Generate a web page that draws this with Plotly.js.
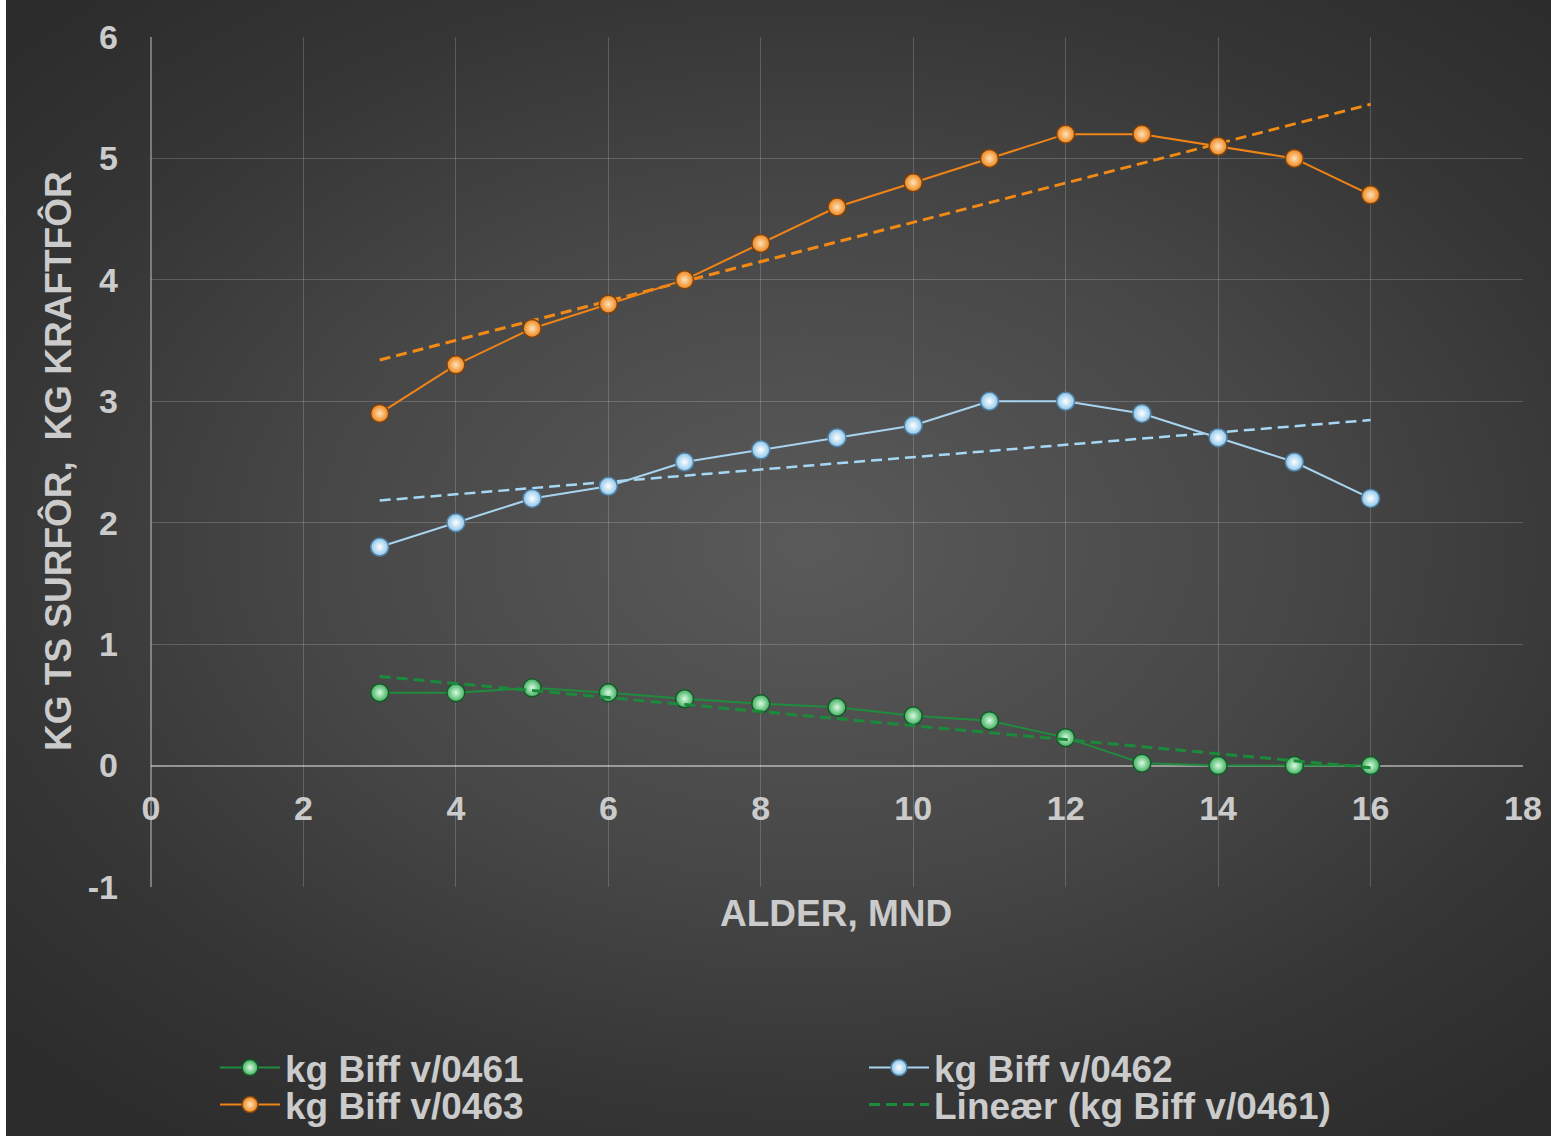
<!DOCTYPE html>
<html>
<head>
<meta charset="utf-8">
<script src="https://cdn.plot.ly/plotly-3.0.1.min.js"></script>
<style>
  html, body { margin: 0; padding: 0; background: #ffffff; }
  #chart {
    position: absolute; left: 0; top: 0; width: 1551px; height: 1136px;
    background: radial-gradient(ellipse 70% 65% at 52% 48%, #5a5a5a 0%, #474747 45%, #363636 75%, #2c2c2c 100%);
  }
  #edge { position: absolute; left: 0; top: 0; width: 6px; height: 1136px; background: #ffffff; z-index: 5; }
</style>
</head>
<body>
<div id="chart"></div>
<div id="edge"></div>
<script>
// Age in months
const ages = [3, 4, 5, 6, 7, 8, 9, 10, 11, 12, 13, 14, 15, 16];

// Daily feed per animal (kg)
const biff0461 = [0.60, 0.60, 0.64, 0.60, 0.55, 0.51, 0.48, 0.41, 0.37, 0.23, 0.02, 0.00, 0.00, 0.00];
const biff0462 = [1.8, 2.0, 2.2, 2.3, 2.5, 2.6, 2.7, 2.8, 3.0, 3.0, 2.9, 2.7, 2.5, 2.2];
const biff0463 = [2.9, 3.3, 3.6, 3.8, 4.0, 4.3, 4.6, 4.8, 5.0, 5.2, 5.2, 5.1, 5.0, 4.7];

const seriesNames = ['kg Biff v/0461', 'kg Biff v/0462', 'kg Biff v/0463'];
const trendName = 'Lineær (kg Biff v/0461)';

const xTicks = [0, 2, 4, 6, 8, 10, 12, 14, 16, 18];
const yTicks = [-1, 0, 1, 2, 3, 4, 5, 6];

// Least-squares straight line through a series, evaluated at the first and last age
function linearTrend(xs, ys) {
  const n = xs.length;
  const mx = xs.reduce((a, b) => a + b, 0) / n;
  const my = ys.reduce((a, b) => a + b, 0) / n;
  let sxy = 0, sxx = 0;
  for (let i = 0; i < n; i++) { sxy += (xs[i] - mx) * (ys[i] - my); sxx += (xs[i] - mx) ** 2; }
  const b = sxy / sxx, a = my - b * mx;
  const ends = [xs[0], xs[n - 1]];
  return { x: ends, y: ends.map(v => a + b * v) };
}

const FONT = 'Liberation Sans, Arial, sans-serif';
const TXT = '#cbcbcb';

function series(y, name, lineColor, fill, center, edge, legend) {
  return {
    x: ages, y: y, name: name, type: 'scatter', mode: 'lines+markers',
    line: { color: lineColor, width: 2 },
    marker: { size: 18, color: fill, gradient: { type: 'radial', color: center },
              line: { color: edge, width: 1.5 } },
    legend: legend
  };
}

function trend(y, name, color, width, showLegend, legend) {
  const t = linearTrend(ages, y);
  return {
    x: t.x, y: t.y, name: name, type: 'scatter', mode: 'lines',
    line: { color: color, width: width, dash: '11px,6px' },
    showlegend: showLegend, legend: legend, hoverinfo: 'skip'
  };
}

const data = [
  trend(biff0463, 'Lineær (kg Biff v/0463)', '#f28a14', 3, false, 'legend'),
  trend(biff0462, 'Lineær (kg Biff v/0462)', '#a6d8f6', 2.5, false, 'legend'),
  series(biff0461, seriesNames[0], '#1f8c3e', '#3fae5e', '#d8fbe0', '#145a27', 'legend'),
  series(biff0462, seriesNames[1], '#a9d4ef', '#8cc6ea', '#ffffff', '#4f7fa3', 'legend'),
  series(biff0463, seriesNames[2], '#f08416', '#ee8418', '#ffe2b8', '#7a4210', 'legend2'),
  trend(biff0461, trendName, '#1b8a3a', 3, true, 'legend2')
];

const legendCommon = {
  orientation: 'h', xref: 'container', yref: 'container',
  xanchor: 'left', yanchor: 'middle',
  bgcolor: 'rgba(0,0,0,0)', borderwidth: 0,
  font: { family: FONT, size: 37, color: TXT, weight: 700 },
  entrywidth: 574, entrywidthmode: 'pixels', itemwidth: 60, tracegroupgap: 0
};

const layout = {
  width: 1551, height: 1136,
  paper_bgcolor: 'rgba(0,0,0,0)', plot_bgcolor: 'rgba(0,0,0,0)',
  margin: { l: 151, r: 28, t: 37, b: 249 },
  font: { family: FONT, color: TXT },
  showlegend: true,
  xaxis: {
    range: [0, 18], tickvals: xTicks, ticktext: xTicks.map(String),
    anchor: 'free', position: 1 / 7,
    showgrid: true, gridcolor: 'rgba(255,255,255,0.18)', gridwidth: 1,
    zeroline: true, zerolinecolor: 'rgba(255,255,255,0.35)', zerolinewidth: 2,
    showline: false, ticks: '', ticklabelstandoff: 19,
    tickfont: { family: FONT, size: 34, color: TXT, weight: 700 }
  },
  yaxis: {
    range: [-1, 6], tickvals: yTicks, ticktext: yTicks.map(String),
    showgrid: true, gridcolor: 'rgba(255,255,255,0.18)', gridwidth: 1,
    zeroline: true, zerolinecolor: 'rgba(255,255,255,0.45)', zerolinewidth: 2,
    showline: false, ticks: '', ticklabelstandoff: 32,
    tickfont: { family: FONT, size: 34, color: TXT, weight: 700 }
  },
  legend: Object.assign({}, legendCommon, { x: 215 / 1551, y: 1 - 1068 / 1136 }),
  legend2: Object.assign({}, legendCommon, { x: 215 / 1551, y: 1 - 1105 / 1136 }),
  annotations: [
    { text: 'ALDER, MND', xref: 'paper', yref: 'paper', x: (836 - 151) / 1372, y: -(913 - 887) / 850,
      showarrow: false, xanchor: 'center', yanchor: 'middle',
      font: { family: FONT, size: 37, color: TXT, weight: 700 } },
    { text: 'KG TS SURFÔR,  KG KRAFTFÔR', xref: 'paper', yref: 'paper',
      x: -(151 - 58) / 1372, y: (887 - 461) / 850, textangle: -90,
      showarrow: false, xanchor: 'center', yanchor: 'middle',
      font: { family: FONT, size: 37, color: TXT, weight: 700 } }
  ]
};

Plotly.newPlot('chart', data, layout, { displayModeBar: false, staticPlot: true });
</script>
</body>
</html>
